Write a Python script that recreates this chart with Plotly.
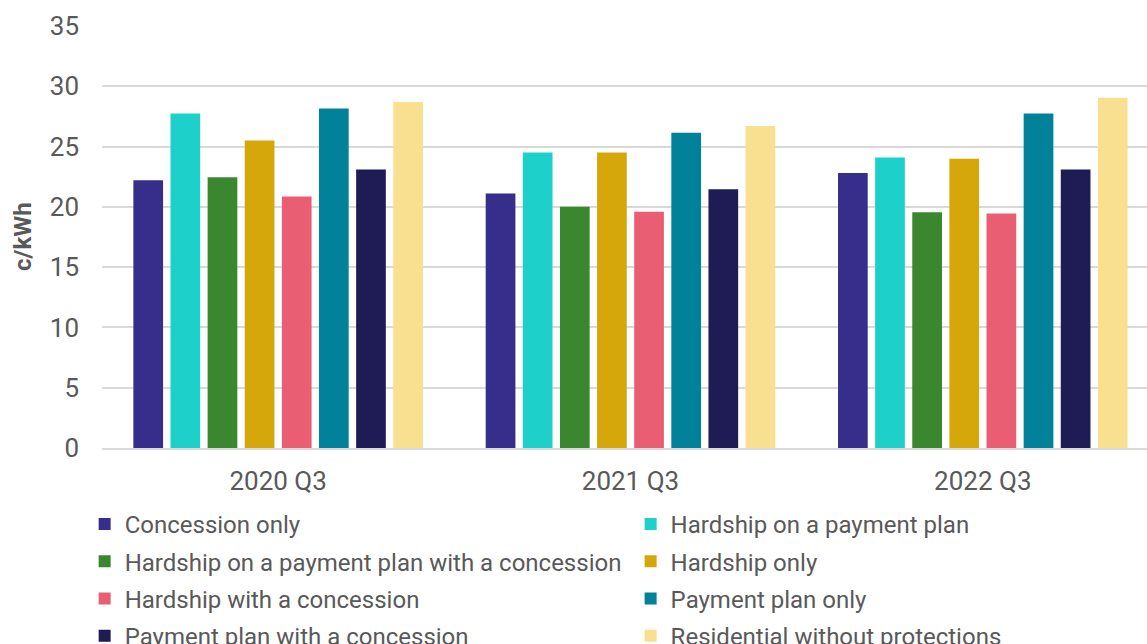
import plotly.graph_objects as go

# Quarterly average price by customer protection status (c/kWh)
quarters = ["2020 Q3", "2021 Q3", "2022 Q3"]

concession_only = [22.2, 21.1, 22.8]
hardship_payment_plan = [27.75, 24.5, 24.1]
hardship_payment_plan_concession = [22.45, 20.0, 19.55]
hardship_only = [25.5, 24.5, 24.0]
hardship_concession = [20.85, 19.6, 19.45]
payment_plan_only = [28.15, 26.15, 27.75]
payment_plan_concession = [23.1, 21.45, 23.1]
residential_no_protection = [28.7, 26.7, 29.05]

series = [
    ("Concession only", concession_only, "#372D8B", "legend"),
    ("Hardship on a payment plan", hardship_payment_plan, "#1DD0C9", "legend2"),
    ("Hardship on a payment plan with a concession", hardship_payment_plan_concession, "#3B8730", "legend"),
    ("Hardship only", hardship_only, "#D5A70B", "legend2"),
    ("Hardship with a concession", hardship_concession, "#E95E73", "legend"),
    ("Payment plan only", payment_plan_only, "#01819A", "legend2"),
    ("Payment plan with a concession", payment_plan_concession, "#1F1C55", "legend"),
    ("Residential without protections", residential_no_protection, "#F8E090", "legend2"),
]

text_grey = "#595959"
grid_grey = "#d9d9d9"

fig = go.Figure()
for name, values, color, leg in series:
    fig.add_trace(go.Bar(
        x=quarters,
        y=values,
        name=name,
        marker=dict(color=color, line=dict(width=0)),
        legend=leg,
        legendgroup=name,
    ))

legend_style = dict(
    orientation="v",
    xanchor="left",
    yanchor="top",
    xref="container",
    yref="container",
    bgcolor="rgba(0,0,0,0)",
    font=dict(family="Roboto", size=24, color=text_grey),
    tracegroupgap=3,
    itemclick=False,
    itemdoubleclick=False,
)

legend_top = 1 - 502 / 644

fig.update_layout(
    width=1147,
    height=644,
    margin=dict(l=102, r=0, t=26, b=196, autoexpand=False),
    paper_bgcolor="white",
    plot_bgcolor="white",
    barmode="group",
    bargap=0.157,
    bargroupgap=0.2,
    font=dict(family="Roboto", color=text_grey),
    showlegend=True,
    legend=dict(x=0.0738, y=legend_top, **legend_style),
    legend2=dict(x=0.5498, y=legend_top, **legend_style),
    xaxis=dict(
        type="category",
        range=[-0.5, 2.466],
        showline=True,
        linecolor=grid_grey,
        linewidth=2,
        showgrid=False,
        ticks="",
        tickfont=dict(family="Roboto", size=26, color=text_grey),
        ticklabelstandoff=9,
        automargin=False,
        fixedrange=True,
    ),
    yaxis=dict(
        range=[0, 35],
        tickvals=[0, 5, 10, 15, 20, 25, 30, 35],
        showgrid=True,
        gridcolor=grid_grey,
        gridwidth=1.5,
        zeroline=False,
        showline=False,
        ticks="",
        tickfont=dict(family="Roboto", size=26, color=text_grey),
        ticklabelstandoff=22,
        automargin=False,
        fixedrange=True,
    ),
    annotations=[
        dict(
            text="<b>c/kWh</b>",
            textangle=-90,
            xref="paper",
            yref="paper",
            x=(23 - 102) / 1045,
            y=0.5,
            xanchor="center",
            yanchor="middle",
            showarrow=False,
            font=dict(family="Roboto", size=24, color=text_grey),
        )
    ],
)

fig.write_html("out.html", config={"displayModeBar": False})
